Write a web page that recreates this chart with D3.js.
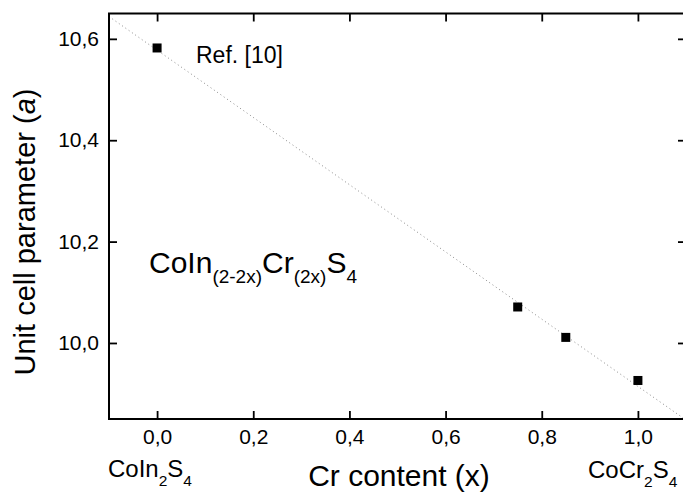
<!DOCTYPE html>
<html>
<head>
<meta charset="utf-8">
<script src="https://cdn.jsdelivr.net/npm/d3@7"></script>
<style>
  body { margin: 0; background: #fff; }
  svg { display: block; font-family: "Liberation Sans", Arial, sans-serif; }
</style>
</head>
<body>
<div id="chart"></div>
<script>
// measured points: Cr content x vs unit cell parameter a
const crContent = [0, 0.75, 0.85, 1.0];
const cellParam = [10.582, 10.071, 10.011, 9.926];
// dotted linear fit, read at both plot edges
const fitX = [-0.1, 1.1];
const fitA = [10.644, 9.848];
const xTicks = [0, 0.2, 0.4, 0.6, 0.8, 1.0];
const yTicks = [10.0, 10.2, 10.4, 10.6];

const width = 683, height = 497;
const margin = { top: 13.5, right: -3, bottom: 78, left: 109 };

const svg = d3.select("#chart")
    .append("svg")
    .attr("width", width)
    .attr("height", height);

const x = d3.scaleLinear()
    .domain([-0.1, 1.1])
    .range([margin.left, width - margin.right]);

const y = d3.scaleLinear()
    .domain([9.85, 10.65])
    .range([height - margin.bottom, margin.top]);

const locale = d3.formatLocale({ decimal: ",", thousands: ".", grouping: [3], currency: ["", ""] });
const fmt = locale.format(".1f");

svg.append("clipPath")
    .attr("id", "plot")
    .append("rect")
    .attr("x", margin.left)
    .attr("y", margin.top)
    .attr("width", x.range()[1] - margin.left)
    .attr("height", y.range()[0] - margin.top);

// fit line
const fit = fitX.map((d, i) => ({ x: d, a: fitA[i] }));
svg.append("path")
    .datum(fit)
    .attr("clip-path", "url(#plot)")
    .attr("fill", "none")
    .attr("stroke", "#8a8a8a")
    .attr("stroke-width", 1)
    .attr("stroke-dasharray", "1,3")
    .attr("d", d3.line().x((d) => x(d.x)).y((d) => y(d.a)));

// axes
function styleAxis(g) {
    g.select(".domain").remove();
    g.selectAll(".tick line").attr("stroke", "#000").attr("stroke-width", 1.8);
    g.selectAll(".tick text").attr("fill", "#000").attr("font-size", 21);
}

svg.append("g")
    .attr("transform", `translate(0,${y.range()[0]})`)
    .call(d3.axisBottom(x).tickValues(xTicks).tickFormat(fmt).tickSize(-8).tickPadding(10.5))
    .call(styleAxis);

svg.append("g")
    .attr("transform", `translate(${margin.left},0)`)
    .call(d3.axisLeft(y).tickValues(yTicks).tickFormat(fmt).tickSize(-8).tickPadding(10))
    .call(styleAxis);

svg.append("g")
    .attr("transform", `translate(0,${margin.top})`)
    .call(d3.axisTop(x).tickValues(xTicks).tickFormat("").tickSize(-8))
    .call(styleAxis);

svg.append("g")
    .attr("transform", `translate(${x.range()[1]},0)`)
    .call(d3.axisRight(y).tickValues(yTicks).tickFormat("").tickSize(-8))
    .call(styleAxis);

// frame
svg.append("rect")
    .attr("x", margin.left)
    .attr("y", margin.top)
    .attr("width", x.range()[1] - margin.left)
    .attr("height", y.range()[0] - margin.top)
    .attr("fill", "none")
    .attr("stroke", "#000")
    .attr("stroke-width", 2);

// points
const pts = crContent.map((d, i) => ({ x: d, a: cellParam[i] }));
const s = 9;
svg.selectAll("rect.pt")
    .data(pts)
    .enter()
    .append("rect")
    .attr("class", "pt")
    .attr("x", (d) => x(d.x) - s / 2)
    .attr("y", (d) => y(d.a) - s / 2)
    .attr("width", s)
    .attr("height", s)
    .attr("fill", "#000");

// titles
svg.append("text")
    .attr("x", 399)
    .attr("y", 486)
    .attr("text-anchor", "middle")
    .attr("font-size", 30)
    .text("Cr content (x)");

svg.append("text")
    .attr("transform", "translate(35,232) rotate(-90)")
    .attr("text-anchor", "middle")
    .attr("font-size", 29)
    .call((t) => {
        t.append("tspan").text("Unit cell parameter (");
        t.append("tspan").attr("font-style", "italic").text("a");
        t.append("tspan").text(")");
    });

svg.append("text")
    .attr("x", 196)
    .attr("y", 62.5)
    .attr("font-size", 23)
    .text("Ref. [10]");

// formula with subscripts
function formula(parts, px, py, big, small, shift) {
    const t = svg.append("text").attr("x", px).attr("y", py).attr("font-size", big);
    let down = false;
    parts.forEach((p, i) => {
        const sub = i % 2 === 1;
        const ts = t.append("tspan").text(p).attr("font-size", sub ? small : big);
        if (sub && !down) { ts.attr("dy", shift); down = true; }
        else if (!sub && down) { ts.attr("dy", -shift); down = false; }
    });
}

formula(["CoIn", "(2-2x)", "Cr", "(2x)", "S", "4"], 149, 273, 30, 19, 10);
formula(["CoIn", "2", "S", "4"], 108, 476.5, 24, 15.5, 9);
formula(["CoCr", "2", "S", "4"], 588, 478, 24, 15.5, 9);
</script>
</body>
</html>
